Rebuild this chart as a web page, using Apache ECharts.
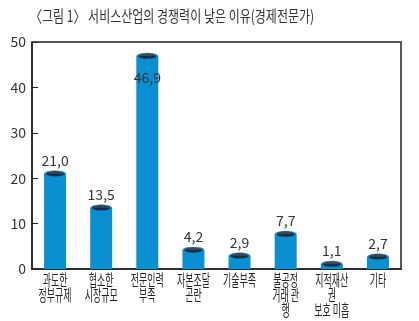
<!DOCTYPE html>
<html><head><meta charset="utf-8">
<script src="https://cdn.jsdelivr.net/npm/echarts@6/dist/echarts.min.js"></script>
<style>html,body{margin:0;padding:0;background:#fff}#c{width:419px;height:321px}</style>
</head><body><div id="c"></div>
<script>
const categories = ['과도한\n정부규제','협소한\n시장규모','전문인력\n부족','자본조달\n곤란','기술부족','불공정\n거래 관\n행','지적재산\n권\n보호 미흡','기타'];
const values = [21.0, 13.5, 46.9, 4.2, 2.9, 7.7, 1.1, 2.7];
const valueLabels = ['21,0','13,5','46,9','4,2','2,9','7,7','1,1','2,7'];
const yTicks = [0, 10, 20, 30, 40, 50];
const titleText = '〈그림 1〉 서비스산업의 경쟁력이 낮은 이유(경제전문가)';

const font = '"Noto Sans CJK KR", "Noto Sans", sans-serif';
const chart = echarts.init(document.getElementById('c'));
chart.setOption({
  animation: false,
  backgroundColor: '#fff',
  grid: {left: 32, right: 18, top: 42, bottom: 52, show: true, borderColor: '#222', borderWidth: 1.5},
  xAxis: {
    type: 'category', data: categories,
    axisLine: {lineStyle: {color: '#222', width: 1.5}},
    axisTick: {inside: true, length: 5, lineStyle: {color: '#222'}},
    axisLabel: {show: false}
  },
  yAxis: {
    type: 'value', min: yTicks[0], max: yTicks[yTicks.length-1], interval: 10,
    splitLine: {show: false},
    axisLine: {show: true, lineStyle: {color: '#222', width: 1.5}},
    axisTick: {show: true, inside: true, length: 6, lineStyle: {color: '#222'}},
    axisLabel: {fontFamily: font, fontSize: 14, color: '#333', margin: 6}
  },
  series: [
    {
      type: 'bar',
      data: values.map((v, i) => i === 2 ? {value: v, label: {position: 'insideTop', offset: [0, 9]}} : v),
      barWidth: 22,
      itemStyle: {color: '#0a8fd1'},
      label: {
        show: true,
        formatter: p => valueLabels[p.dataIndex],
        position: 'top', distance: 6,
        fontFamily: font, fontSize: 14, color: '#333'
      }
    },
    {
      type: 'scatter', data: values, symbol: 'circle', symbolSize: [20, 6],
      itemStyle: {color: '#0b1a2a', borderColor: '#0a8fd1', borderWidth: 1}, z: 5,
      silent: true
    }
  ]
});

// condensed text (the reference uses a narrow Korean face)
const baseY = chart.convertToPixel({yAxisIndex: 0}, 0);
const graphics = [{
  type: 'text', x: 30, y: 8, scaleX: 0.75,
  style: {text: titleText, font: '16px "Noto Sans CJK KR", sans-serif', fill: '#333', textAlign: 'left', textVerticalAlign: 'top'}
}];
categories.forEach((c, i) => {
  const cx = chart.convertToPixel({xAxisIndex: 0}, c);
  graphics.push({
    type: 'text', x: cx, y: baseY + 3, scaleX: 0.56,
    style: {text: c, font: '16px "Noto Sans CJK KR", sans-serif', lineHeight: 15, fill: '#222', textAlign: 'center', textVerticalAlign: 'top'}
  });
});
chart.setOption({graphic: graphics});
</script></body></html>
